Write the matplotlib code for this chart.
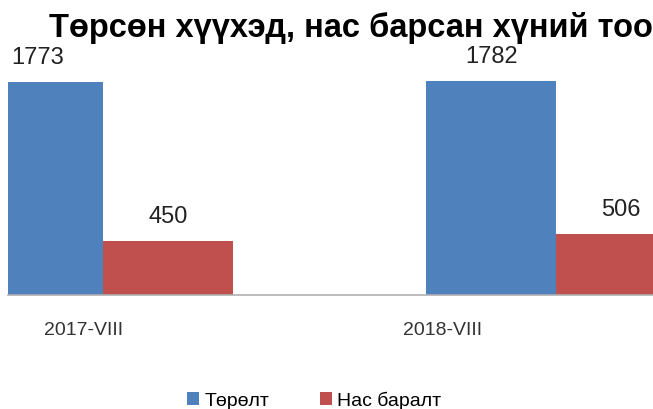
import matplotlib.pyplot as plt

categories = ["2017-VIII", "2018-VIII"]
births = [1773, 1782]
deaths = [450, 506]
series_names = ["Төрөлт", "Нас баралт"]

blue = "#4F81BD"
red = "#C0504D"

fig = plt.figure(figsize=(6.53, 4.10), dpi=100)
ax = fig.add_axes([8 / 653, 1 - 296 / 410, 1 - 8 / 653, 240 / 410])

w = 0.287
x = [0, 1]
b1 = ax.bar([i - w / 2 for i in x], births, width=w, color=blue, label=series_names[0])
b2 = ax.bar([i + w / 2 for i in x], deaths, width=w, color=red, label=series_names[1])

for bars in (b1, b2):
    for rect in bars:
        ax.annotate(str(int(rect.get_height())),
                    (rect.get_x() + rect.get_width() / 2, rect.get_height()),
                    xytext=(0, 14), textcoords="offset pixels",
                    ha="center", va="bottom", fontsize=17, color="#222222",
                    family="Liberation Sans", annotation_clip=False)

ax.set_xlim(-0.21, 1.214)
ax.set_ylim(0, 2000)
for s in ["top", "left", "right"]:
    ax.spines[s].set_visible(False)
ax.spines["bottom"].set_color("#b0b0b0")
ax.spines["bottom"].set_linewidth(1.2)
ax.set_yticks([])
ax.set_xticks([-0.044, 0.75])
ax.set_xticklabels(categories, fontsize=14, color="#333333", family="Liberation Sans")
ax.tick_params(axis="x", length=0, pad=19)

fig.text(0.5375, 1 - 28 / 410, "Төрсөн хүүхэд, нас барсан хүний тоо",
         ha="center", va="center", fontsize=23.5, fontweight="bold",
         family="Liberation Sans", color="black")

fig.legend(handles=[b1, b2], labels=series_names, loc="center",
           bbox_to_anchor=(314 / 653, 1 - 401 / 410), ncol=2, frameon=False,
           handlelength=0.65, handleheight=0.65, handletextpad=0.25,
           columnspacing=2.6, prop={"family": "Liberation Sans", "size": 14})

fig.savefig("out.png", dpi=100)
